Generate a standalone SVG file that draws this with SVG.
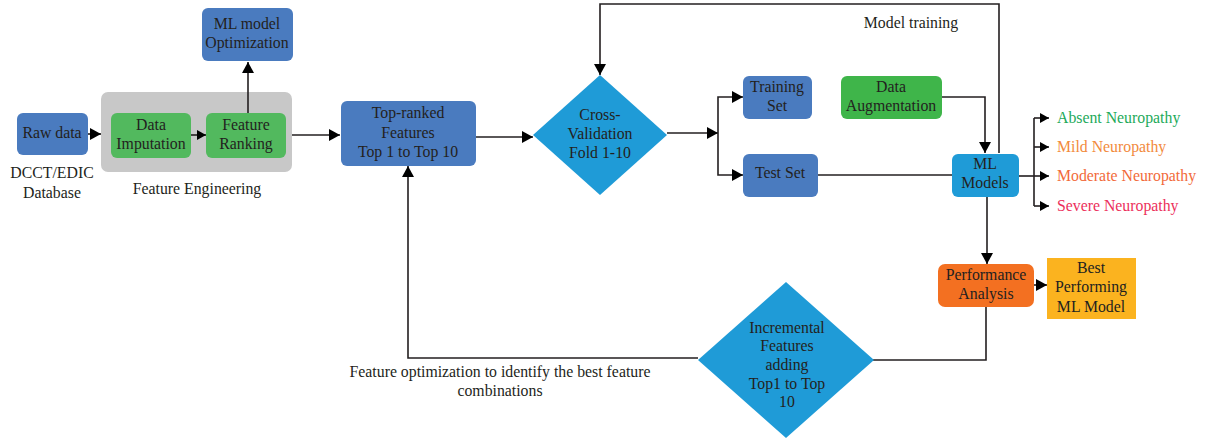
<svg xmlns="http://www.w3.org/2000/svg" width="1207" height="441" viewBox="0 0 1207 441">
<defs>
<style>
text{font-family:"Liberation Serif","DejaVu Serif",serif;font-size:15.8px;fill:#231f20;text-anchor:middle}
.lbl{text-anchor:start}
.ln{fill:none;stroke:#231f20;stroke-width:1.6}
.blue{fill:#4a7bbf}
.green{fill:#52b95e}
.cyan{fill:#1f9bd7}
</style>
<marker id="ah" markerUnits="userSpaceOnUse" markerWidth="12" markerHeight="12" refX="11" refY="6" orient="auto"><path d="M0,0 L11,6 L0,12 z" fill="#000"/></marker>
<marker id="as" markerUnits="userSpaceOnUse" markerWidth="10" markerHeight="10" refX="9" refY="5" orient="auto"><path d="M0,0 L9,5 L0,10 z" fill="#000"/></marker>
</defs>
<rect x="101" y="92" width="191" height="80" rx="7" fill="#c8c8c8"/>
<g id="connectors">
<path class="ln" d="M88,134 H101" marker-end="url(#ah)"/>
<path class="ln" d="M191,135 H206" marker-end="url(#as)"/>
<path class="ln" d="M248,113 V62" marker-end="url(#ah)"/>
<path class="ln" d="M292,135 H340" marker-end="url(#ah)"/>
<path class="ln" d="M476,137 H533" marker-end="url(#ah)"/>
<path class="ln" d="M999,153 V4 H600 V75" marker-end="url(#ah)"/>
<path class="ln" d="M667,133 H718" marker-end="url(#ah)"/>
<path class="ln" d="M718,133 V97 H743" marker-end="url(#ah)"/>
<path class="ln" d="M718,133 V175 H743" marker-end="url(#ah)"/>
<path class="ln" d="M818,175 H952"/>
<path class="ln" d="M942,97 H985 V153" marker-end="url(#ah)"/>
<path class="ln" d="M1019,176 H1034"/>
<path class="ln" d="M1034,118 V206"/>
<path class="ln" d="M1034,118 H1049" marker-end="url(#as)"/>
<path class="ln" d="M1034,147 H1049" marker-end="url(#as)"/>
<path class="ln" d="M1034,176 H1049" marker-end="url(#as)"/>
<path class="ln" d="M1034,206 H1049" marker-end="url(#as)"/>
<path class="ln" d="M987,197 V264" marker-end="url(#ah)"/>
<path class="ln" d="M1034,285 H1047" marker-end="url(#ah)"/>
<path class="ln" d="M986,307 V360 H873"/>
<path class="ln" d="M698,358 H408 V166" marker-end="url(#ah)"/>
</g>
<g id="raw-data"><rect class="blue" x="17" y="113" width="71" height="42" rx="6"/><text x="52" y="138">Raw data</text></g>
<g id="database-label"><text x="52" y="178">DCCT/EDIC</text><text x="52" y="198">Database</text></g>
<g id="data-imputation"><rect class="green" x="111" y="113" width="80" height="45" rx="6"/><text x="151" y="130">Data</text><text x="151" y="149">Imputation</text></g>
<g id="feature-ranking"><rect class="green" x="206" y="113" width="80" height="45" rx="6"/><text x="246" y="130">Feature</text><text x="246" y="149">Ranking</text></g>
<g id="feature-engineering"><text x="197" y="194">Feature Engineering</text></g>
<g id="ml-optimization"><rect class="blue" x="202" y="8" width="91" height="53" rx="6"/><text x="247" y="29">ML model</text><text x="247" y="48">Optimization</text></g>
<g id="top-ranked"><rect class="blue" x="341" y="101" width="135" height="65" rx="6"/><text x="408" y="118">Top-ranked</text><text x="408" y="138">Features</text><text x="408" y="157">Top 1 to Top 10</text></g>
<g id="cross-validation"><polygon class="cyan" points="600,75 667,135 600,195 533,135"/><text x="600" y="120">Cross-</text><text x="600" y="139">Validation</text><text x="600" y="158">Fold 1-10</text></g>
<g id="model-training-label"><text x="911" y="28">Model training</text></g>
<g id="training-set"><rect class="blue" x="743" y="76" width="69" height="43" rx="6"/><text x="777" y="92">Training</text><text x="777" y="111">Set</text></g>
<g id="data-augmentation"><rect x="841" y="76" width="101" height="43" rx="6" fill="#3fb54a"/><text x="891" y="92">Data</text><text x="891" y="111">Augmentation</text></g>
<g id="test-set"><rect class="blue" x="743" y="154" width="75" height="43" rx="6"/><text x="780" y="178">Test Set</text></g>
<g id="ml-models"><rect class="cyan" x="952" y="154" width="67" height="43" rx="6"/><text x="985" y="169">ML</text><text x="985" y="188">Models</text></g>
<g id="absent"><text class="lbl" x="1057" y="123" style="fill:#1daa5a">Absent Neuropathy</text></g>
<g id="mild"><text class="lbl" x="1057" y="152" style="fill:#f28a3c">Mild Neuropathy</text></g>
<g id="moderate"><text class="lbl" x="1057" y="181" style="fill:#f26a3a">Moderate Neuropathy</text></g>
<g id="severe"><text class="lbl" x="1057" y="211" style="fill:#ec2f5b">Severe Neuropathy</text></g>
<g id="performance-analysis"><rect x="938" y="264" width="96" height="43" rx="7" fill="#f37021"/><text x="986" y="280">Performance</text><text x="986" y="299">Analysis</text></g>
<g id="best-model"><rect x="1047" y="258" width="89" height="61" fill="#fbb31f"/><text x="1091" y="273">Best</text><text x="1091" y="292">Performing</text><text x="1091" y="312">ML Model</text></g>
<g id="incremental"><polygon class="cyan" points="786,282 874,360 786,438 698,360"/><text x="787" y="333">Incremental</text><text x="787" y="351">Features</text><text x="787" y="370">adding</text><text x="787" y="389">Top1 to Top</text><text x="787" y="407">10</text></g>
<g id="feature-optimization-label"><text x="500" y="377">Feature optimization to identify the best feature</text><text x="500" y="396">combinations</text></g>
</svg>
